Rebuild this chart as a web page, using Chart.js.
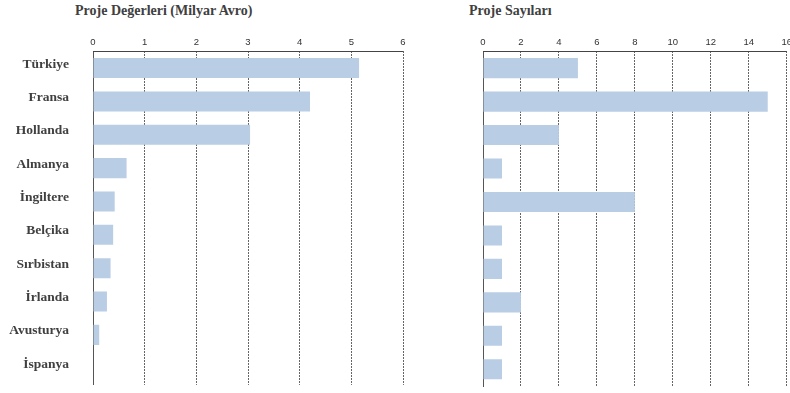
<!DOCTYPE html>
<html>
<head>
<meta charset="utf-8">
<script src="https://cdn.jsdelivr.net/npm/chart.js@4.4.0/dist/chart.umd.min.js"></script>
<style>
  body { margin: 0; background: #fff; overflow: hidden; }
  #wrap { position: relative; width: 790px; height: 393px; overflow: hidden; }
  .ttl { position: absolute; top: 3px; font: bold 14px "Liberation Serif", serif; color: #404040; white-space: nowrap; }
  canvas { position: absolute; top: 0; }
</style>
</head>
<body>
<div id="wrap">
  <div class="ttl" style="left:75px">Proje Değerleri (Milyar Avro)</div>
  <div class="ttl" style="left:469px">Proje Sayıları</div>
  <canvas id="c1" style="left:0px" width="410" height="393"></canvas>
  <canvas id="c2" style="left:420px" width="375" height="393"></canvas>
</div>
<script>
// countries, top to bottom
const countries = ['Türkiye', 'Fransa', 'Hollanda', 'Almanya', 'İngiltere', 'Belçika', 'Sırbistan', 'İrlanda', 'Avusturya', 'İspanya'];
// project values (billion euro)
const projectValues = [5.15, 4.2, 3.04, 0.65, 0.42, 0.39, 0.34, 0.27, 0.12, 0];
// project counts
const projectCounts = [5, 15, 4, 1, 8, 1, 1, 2, 1, 1];

const valueMax = 6, valueStep = 1;
const countMax = 16, countStep = 2;

const barColor = '#b9cde5';

function makeChart(id, data, max, step, showLabels, leftWidth, padRight) {
  new Chart(document.getElementById(id), {
    type: 'bar',
    data: {
      labels: countries,
      datasets: [{
        data: data,
        backgroundColor: barColor,
        borderWidth: 0,
        categoryPercentage: 1,
        barPercentage: 0.6
      }]
    },
    options: {
      indexAxis: 'y',
      responsive: false,
      animation: false,
      layout: { padding: { top: 34, bottom: 7, left: 0, right: padRight } },
      plugins: { legend: { display: false }, tooltip: { enabled: false } },
      scales: {
        x: {
          position: 'top',
          min: 0,
          max: max,
          ticks: {
            stepSize: step,
            padding: 3,
            color: '#333',
            font: { family: 'Liberation Sans', size: 9.5 }
          },
          grid: {
            drawTicks: false,
            color: '#666',
            lineWidth: 1
          },
          // dash is used by the vertical grid lines
          border: { display: false, dash: [2, 1] }
        },
        y: {
          ticks: {
            display: showLabels,
            padding: 0,
            labelOffset: -4,
            color: '#404040',
            font: { family: 'Liberation Serif', size: 13.5, weight: 'bold' }
          },
          // grid hidden, tick length only used to push labels away from the axis
          grid: { display: false, drawTicks: true, tickLength: 24 },
          border: { display: true, color: '#555', width: 1 },
          afterFit: function (scale) { scale.width = leftWidth; }
        }
      }
    },
    plugins: [{
      // solid top axis line across the plot
      id: 'topLine',
      afterDatasetsDraw: function (chart) {
        const a = chart.chartArea, ctx = chart.ctx;
        ctx.save();
        ctx.strokeStyle = '#444';
        ctx.lineWidth = 1;
        ctx.setLineDash([]);
        ctx.beginPath();
        ctx.moveTo(a.left, Math.round(a.top) + 0.5);
        ctx.lineTo(a.right, Math.round(a.top) + 0.5);
        ctx.stroke();
        ctx.restore();
      }
    }]
  });
}

makeChart('c1', projectValues, valueMax, valueStep, true, 93, 7);
makeChart('c2', projectCounts, countMax, countStep, false, 63, 4);
</script>
</body>
</html>
